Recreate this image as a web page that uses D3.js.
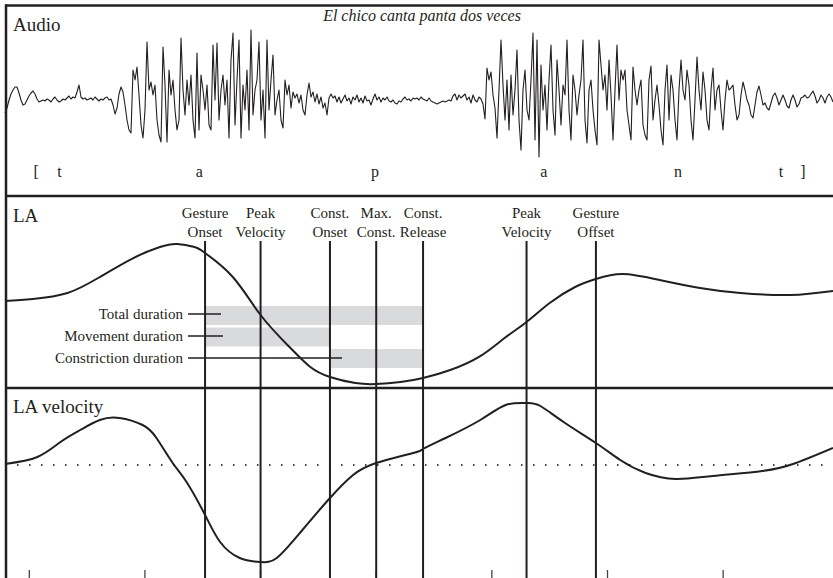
<!DOCTYPE html>
<html>
<head>
<meta charset="utf-8">
<script src="https://cdn.jsdelivr.net/npm/d3@7"></script>
<style>
    body { margin: 0; background: #fff; }
    text { font-family: "Liberation Serif", "DejaVu Serif", serif; fill: #231f20; }
</style>
</head>
<body>
<div class="chart"></div>
<script>
// time axis (ms)
let timeDomain = [-21, 695];
let timeTicks = [0, 100, 200, 300, 400, 500, 600];

// audio samples, spread evenly over the time domain
let audio = [
    -13, -8, 0, 6, 10, 13, 13, 7, 0, -5, -4, 0, 4, 7, 9, 6, 1, -2, -1, 0, -1, 1, 0, -2, 1, 3, 0, -2, -1, 1, 0, 2,
    4, 1, 3, 2, 8, 15, 3, 1, 2, 0, 1, 2, 0, 3, 1, -1, 1, 0, 2, 3, 0, 1, -5, -14, -8, 6, 13, 8, -5, -20, -30,
    -33, 30, 20, 33, 5, -25, -38, -10, 58, 10, 18, 5, 15, -20, -35, -42, 53, 15, -42, 30, 5, 20, -10, -30, -20,
    62, 10, -15, 20, -5, 25, -20, -38, 47, -30, 25, 10, -10, 15, -25, -30, 55, 0, 57, -20, 10, 25, -5, 20, -38,
    40, 67, -25, 20, 60, -38, 15, -10, 30, -30, 70, -15, 10, 20, 58, -20, 10, -38, 60, -10, 20, 45, -15, 0, 10,
    -20, -28, 20, 5, 15, -8, 8, 2, 6, -3,
    5, -10, -15, 5, 17, 3, 8, -2, 6, -4, 3, -8, -3, -15, 2, 6, 2, 4, -2, 3, -3, 1, 5, -1, 2, -4, 3, 0, 5, -2,
    2, -3, 4, -1, 0, -5, 1, 6, 0, 3, -2, 2, 0, 3, -1, -2, 0, -3, -4, -1, -2, 1, 3, 0, 1, -1, 2, 1, 2, 0, 3, 1,
    0, -1, 2, -1, -2, -3, -4, -3, -2, -1, -2, -1, 0, -1, 4, 6, 0, 5, 2, 4, 6, 0, 3, -3, 5, 0, -2, 3, 1, -4, -19,
    32, 20, 28, 5, -8, -38, 10, 60, 15, -20, 20, -30, 25, -15, 10, 50, -20, -50, 10, 30, -10, -20, 20, 67, -40,
    60, -57, 35, -10, 15, -30, 20, 55, -10, -35, 40, 10, -25, 15, 5, 60, -10, -40, 25, 10, -15, 5, 20, 60, -20,
    -43, 10, 20, -10, -30, -45, 60, 35, 10, 25, -10, 40, 5, -40, 10, 55, 0, 30, 20, 30, -10, -25, -40, 33, 10,
    -5, 10, 20, -25, -35, -40, 20, 34, -20, 0, 15, -5, -30, -45, 10, 35, -20, 25, 10, -20, -40, 10, 40, 10, 0,
    30, 15, -20, -40, 0, 43, 10, -10, 28, 10, -20, -30, 10, 32, -10, 10, 15, -10, -30, 0, 20, 10, 12, 15, -5,
    -20, -15, 5, 18, 10, 0, -5, -15, -18, -5, 8, 14, 5, -5, -3, -8, -10, -3, 4, 7, 2, -5, 0, 5, 0, -6, -8, 0,
    5, 0, -7, -4, 2, 3, 5, 2, 3, 6, 9, 4, -3, 0, 5, 2, -3, 3, 6, 3, -2
];

let segments = [
    {label: '[', t: 6}, {label: 't', t: 26}, {label: 'a', t: 147}, {label: 'p', t: 299},
    {label: 'a', t: 445}, {label: 'n', t: 561}, {label: 't', t: 650}, {label: ']', t: 669}
];

// lip aperture (mm)
let laTime = [-21, 3, 33, 61, 90, 113, 128, 143, 152, 176, 200, 225, 243, 260, 282, 300, 321, 340.5, 364,
    390, 411, 430, 450, 472, 490, 513, 545, 580, 615, 658, 695];
let laValue = [9.44, 9.67, 10.33, 12.11, 14.22, 15.44, 15.78, 15.44, 14.78, 12.11, 7.89, 4.33, 2.11, 1.0,
    0.33, 0.22, 0.44, 0.89, 1.78, 3.33, 5.33, 7.11, 9.22, 11.0, 11.89, 12.44, 11.78, 10.89, 10.33, 10.11, 10.56];

// lip aperture velocity (mm/s)
let velTime = [-21, 7, 27, 44, 61, 78, 98, 110, 124, 136, 152, 165, 182, 200, 214, 234, 260, 280, 300, 332,
    340.5, 360, 390, 412, 430, 442, 462, 490, 511, 533, 559, 591, 634, 663, 695];
let velValue = [2, 16, 46, 70, 90, 94, 80, 54, 4, -34, -100, -154, -186, -194, -186, -136, -66, -20, 4, 24,
    32, 54, 90, 120, 124, 118, 86, 44, 10, -16, -28, -22, -12, 4, 34];

// gesture landmarks (ms)
let events = [
    {t: 152, lines: ['Gesture', 'Onset']},
    {t: 200, lines: ['Peak', 'Velocity']},
    {t: 260, lines: ['Const.', 'Onset']},
    {t: 300, lines: ['Max.', 'Const.']},
    {t: 340.5, lines: ['Const.', 'Release']},
    {t: 430, lines: ['Peak', 'Velocity']},
    {t: 490, lines: ['Gesture', 'Offset']}
];

let durations = [
    {label: 'Total duration', from: 152, to: 340.5, tip: 221},
    {label: 'Movement duration', from: 152, to: 260, tip: 223},
    {label: 'Constriction duration', from: 260, to: 340.5, tip: 342}
];

let w = 833;
let h = 578;
let ink = '#231f20';

let svg = d3.select('.chart')
    .append('svg')
    .attr('width', w)
    .attr('height', h);

let x = d3.scaleLinear().domain(timeDomain).range([5, 833]);
let yAudio = d3.scaleLinear().domain([-80, 80]).range([180, 20]);
let yLA = d3.scaleLinear().domain([0, 16]).range([386, 242]);
let yVel = d3.scaleLinear().domain([-200, 100]).range([565, 415]);
let idx = d3.scaleLinear().domain([0, audio.length - 1]).range(timeDomain);

// ---- audio panel
svg.append('path')
    .datum(audio)
    .attr('fill', 'none')
    .attr('stroke', ink)
    .attr('stroke-width', 1.1)
    .attr('stroke-linejoin', 'round')
    .attr('d', d3.line().x(function(d, i) {return x(idx(i))}).y(function(d) {return yAudio(d)}));

svg.selectAll('.seg')
    .data(segments)
    .enter()
    .append('text')
    .attr('x', function(d) {return x(d.t)})
    .attr('y', 177)
    .attr('text-anchor', 'middle')
    .attr('font-size', '16px')
    .text(function(d) {return d.label});

svg.append('text')
    .attr('x', 422).attr('y', 21)
    .attr('text-anchor', 'middle')
    .attr('font-size', '16px')
    .attr('font-style', 'italic')
    .text('El chico canta panta dos veces');

// ---- LA panel
let bandH = 19;
svg.selectAll('.band')
    .data(durations)
    .enter()
    .append('rect')
    .attr('x', function(d) {return x(d.from)})
    .attr('y', function(d, i) {return 306 + i * 21.5})
    .attr('width', function(d) {return x(d.to) - x(d.from)})
    .attr('height', bandH)
    .attr('fill', '#d9dadb');

svg.selectAll('.lead')
    .data(durations)
    .enter()
    .append('line')
    .attr('x1', 188)
    .attr('x2', function(d) {return d.tip})
    .attr('y1', function(d, i) {return 314 + i * 22})
    .attr('y2', function(d, i) {return 314 + i * 22})
    .attr('stroke', ink)
    .attr('stroke-width', 1.3);

svg.selectAll('.dur-text')
    .data(durations)
    .enter()
    .append('text')
    .attr('x', 183)
    .attr('y', function(d, i) {return 319 + i * 22})
    .attr('text-anchor', 'end')
    .attr('font-size', '15px')
    .text(function(d) {return d.label});

let curve = d3.curveNatural;

svg.append('path')
    .datum(d3.zip(laTime, laValue))
    .attr('fill', 'none')
    .attr('stroke', ink)
    .attr('stroke-width', 2)
    .attr('d', d3.line().curve(curve).x(function(d) {return x(d[0])}).y(function(d) {return yLA(d[1])}));

// ---- velocity panel
svg.append('line')
    .attr('x1', 17).attr('x2', 826)
    .attr('y1', yVel(0)).attr('y2', yVel(0))
    .attr('stroke', '#444')
    .attr('stroke-width', 2)
    .attr('stroke-dasharray', '1.5,10.5');

svg.append('path')
    .datum(d3.zip(velTime, velValue))
    .attr('fill', 'none')
    .attr('stroke', ink)
    .attr('stroke-width', 2)
    .attr('d', d3.line().curve(curve).x(function(d) {return x(d[0])}).y(function(d) {return yVel(d[1])}));

// time ticks along the bottom
svg.selectAll('.tick')
    .data(timeTicks)
    .enter()
    .append('line')
    .attr('x1', function(d) {return x(d)})
    .attr('x2', function(d) {return x(d)})
    .attr('y1', 570)
    .attr('y2', h)
    .attr('stroke', '#444')
    .attr('stroke-width', 1.3);

// landmark lines and labels
svg.selectAll('.event')
    .data(events)
    .enter()
    .append('line')
    .attr('x1', function(d) {return x(d.t)})
    .attr('x2', function(d) {return x(d.t)})
    .attr('y1', 241)
    .attr('y2', h)
    .attr('stroke', ink)
    .attr('stroke-width', 2);

let lab = svg.selectAll('.event-text')
    .data(events)
    .enter()
    .append('text')
    .attr('text-anchor', 'middle')
    .attr('font-size', '15px');
lab.append('tspan')
    .attr('x', function(d) {return x(d.t)})
    .attr('y', 218)
    .text(function(d) {return d.lines[0]});
lab.append('tspan')
    .attr('x', function(d) {return x(d.t)})
    .attr('y', 237)
    .text(function(d) {return d.lines[1]});

// ---- panel titles and frame
svg.append('text').attr('x', 13).attr('y', 31).attr('font-size', '19px').text('Audio');
svg.append('text').attr('x', 13).attr('y', 222).attr('font-size', '19px').text('LA');
svg.append('text').attr('x', 13).attr('y', 413).attr('font-size', '19px').text('LA velocity');

[5.5, 196, 388].forEach(function(yy) {
    svg.append('line')
        .attr('x1', 5).attr('x2', w)
        .attr('y1', yy).attr('y2', yy)
        .attr('stroke', ink)
        .attr('stroke-width', 2.5);
});
svg.append('line')
    .attr('x1', 6).attr('x2', 6)
    .attr('y1', 4.5).attr('y2', h)
    .attr('stroke', ink)
    .attr('stroke-width', 2.5);
</script>
</body>
</html>
